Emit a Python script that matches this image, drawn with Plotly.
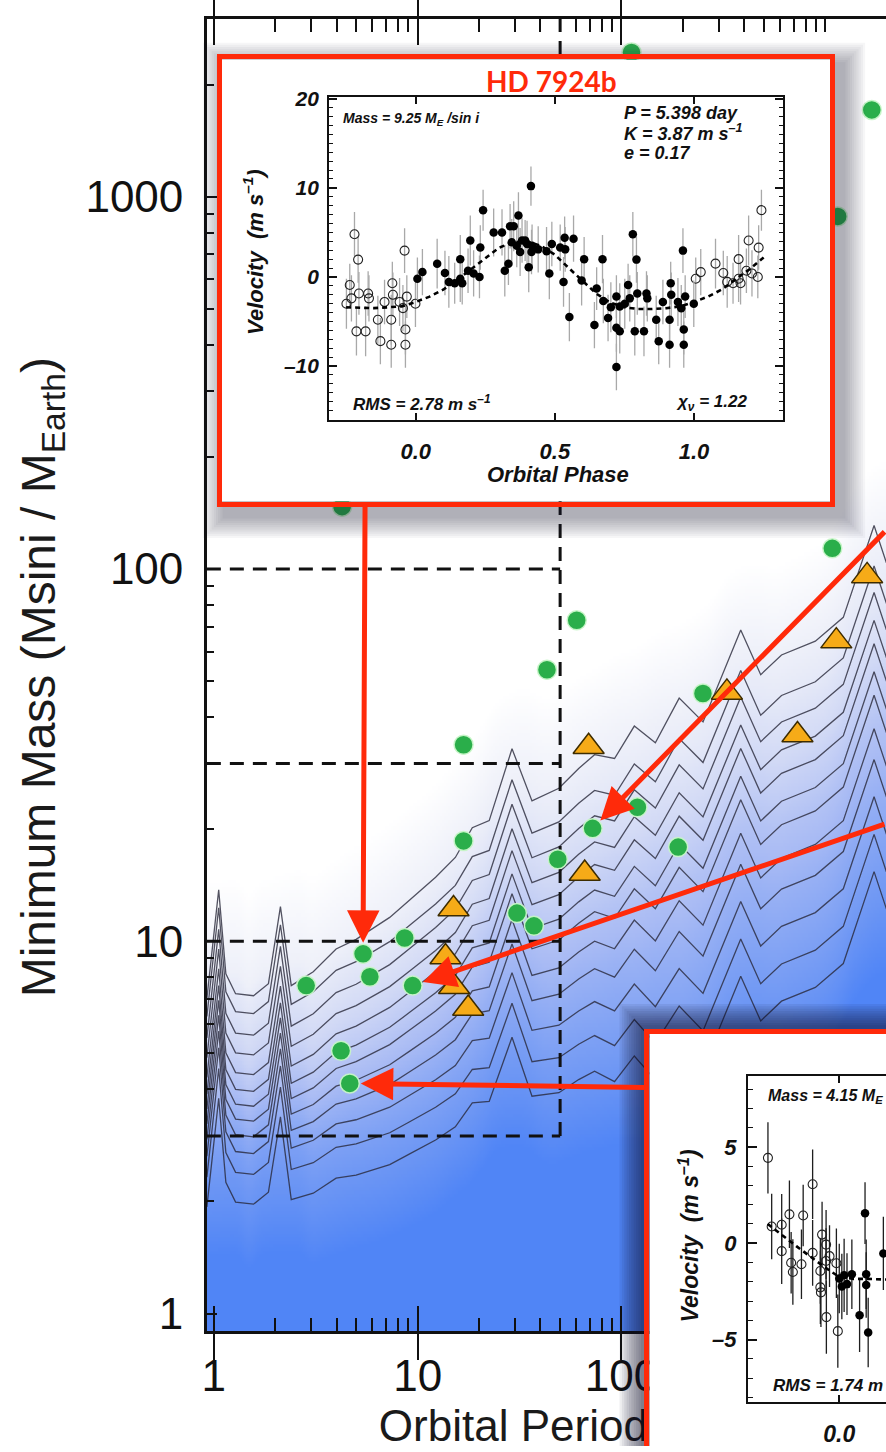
import numpy as np
import plotly.graph_objects as go

W, H = 886, 1452

# ---------------- planets ----------------
known_period = [2.84, 5.398, 5.83, 8.64, 9.45, 4.21, 4.646, 16.8, 16.8, 30.7, 37.2, 48.7,
                43.1, 60.3, 72.2, 119.7, 189.7, 251, 1082, 4.26, 112, 1690, 1150]
known_mass = [7.6, 9.25, 8.03, 10.2, 7.6, 5.08, 4.15, 18.6, 33.7, 11.9, 11.0, 16.6,
              53.6, 72.8, 20.1, 22.9, 17.9, 46.3, 113.6, 147, 2440, 1710, 885]
cand_period = [69, 66, 15.0, 13.7, 15.1, 17.7, 329, 730, 1132, 1603]
cand_mass = [33.3, 15.2, 12.2, 9.07, 7.55, 6.6, 46.6, 35.8, 64, 95.8]

# ---------------- detectability contours ----------------
contour_period = [0.925, 1.057, 1.146, 1.279, 1.567, 1.854, 2.123, 2.399, 3.076, 3.981,
                  4.989, 7.295, 9.141, 12.25, 15.31, 18.54, 22.44, 29.04, 36.39, 49.32,
                  61.66, 73.79, 92.47, 115.6, 146.6, 191.9, 251.2, 384.6, 481.9, 609.5,
                  893.3, 1225, 1734, 1995]
contour_top_mass = [7.02, 13.74, 8.17, 7.23, 7.14, 7.69, 12.39, 7.60, 8.28, 9.53,
                    10.12, 11.59, 12.91, 14.86, 16.79, 20.18, 21.09, 32.89, 23.82, 25.76,
                    29.11, 31.70, 30.97, 37.84, 34.12, 44.98, 38.82, 68.55, 52.00, 58.75,
                    63.97, 74.13, 130.9, 103.8]
# depth (dex) of each lower contour below the top one, at short and long periods
depth_short = [0.048, 0.106, 0.159, 0.212, 0.257, 0.297, 0.337, 0.379, 0.424, 0.48, 0.56]
depth_long = [0.109, 0.18, 0.255, 0.318, 0.393, 0.456, 0.546, 0.629, 0.729, 0.83, 0.93]
depth_anchor_logp = [0.3, 2.3]

# survey boxes
box_period_max = 50
box_mass_edges = [3, 10, 30, 100]

# ---------------- HD 7924b radial velocities ----------------
hd7924_phase = [0.006, 0.024, 0.077, 0.105, 0.119, 0.14, 0.16, 0.16, 0.167, 0.188, 0.196, 0.208,
                0.229, 0.232, 0.242, 0.28, 0.31, 0.32, 0.333, 0.339, 0.345, 0.352, 0.363, 0.369,
                0.375, 0.382, 0.393, 0.40, 0.406, 0.414, 0.416, 0.418, 0.44, 0.47, 0.48, 0.489,
                0.519, 0.531, 0.535, 0.537, 0.552, 0.567, 0.596, 0.605, 0.642, 0.65, 0.671, 0.674,
                0.691, 0.701, 0.721, 0.721, 0.721, 0.733, 0.733, 0.751, 0.763, 0.769, 0.78, 0.787,
                0.793, 0.796, 0.82, 0.829, 0.832, 0.864, 0.873, 0.888, 0.912, 0.912, 0.916, 0.918,
                0.942, 0.954, 0.96, 0.963, 0.963, 0.968, 0.999]
hd7924_vel = [-0.2, 0.55, 1.5, 0.45, -0.55, -0.7, -0.2, 2.0, -0.7, 0.7, 4.1, 0.4,
              0.0, 3.3, 7.5, 5.0, 5.0, 0.7, 1.5, 5.7, 3.9, 5.7, 3.5, 6.9,
              2.8, 4.1, 4.1, 3.7, 1.1, 10.2, 2.8, 3.5, 3.1, 2.9, 0.4, 3.7,
              3.3, -0.55, 4.4, 3.1, -4.5, 4.3, -0.4, 2.0, -5.4, -1.3, 2.0, -2.7,
              -4.6, -3.4, -2.2, -5.7, -10.1, -6.1, -3.3, -3.0, -0.9, -2.4, 4.8, -6.1,
              1.95, -1.85, -6.1, -1.85, -2.4, -4.8, -7.2, -2.8, -4.8, -7.6, -0.7, -2.0,
              -2.8, -3.5, 2.96, -5.9, -7.6, -2.2, -3.0]
hd7924_err = [2.4, 2.6, 2.8, 2.5, 2.9, 2.3, 2.6, 2.7, 2.4, 2.5, 2.8, 2.6,
              2.4, 2.5, 2.3, 2.7, 2.6, 2.9, 2.4, 2.5, 2.6, 2.8, 2.4, 2.6,
              2.7, 2.5, 2.3, 2.6, 2.8, 2.2, 2.5, 2.4, 2.6, 2.7, 2.9, 2.5,
              2.6, 2.8, 2.4, 2.5, 2.7, 2.6, 2.8, 2.5, 2.6, 2.4, 2.7, 2.5,
              2.6, 2.8, 2.4, 2.7, 2.6, 2.5, 2.6, 2.8, 2.4, 2.6, 2.5, 2.7,
              2.6, 2.4, 2.8, 2.5, 2.6, 2.7, 2.6, 2.5, 2.8, 2.6, 2.4, 2.5,
              2.7, 2.6, 2.5, 2.8, 2.6, 2.4, 2.6]
hd7924_fit_phase = [-0.25, -0.15, -0.05, 0.0, 0.05, 0.1, 0.15, 0.2, 0.25, 0.3, 0.35, 0.4, 0.45,
                    0.5, 0.55, 0.6, 0.65, 0.7, 0.75, 0.8, 0.85, 0.9, 0.95, 1.0, 1.05, 1.1,
                    1.15, 1.2, 1.25]
hd7924_fit_vel = [-3.4, -3.5, -3.3, -2.8, -2.2, -1.4, -0.3, 0.9, 2.2, 3.3, 3.9, 4.0, 3.5,
                  2.5, 1.0, -0.5, -1.9, -2.9, -3.4, -3.6, -3.6, -3.5, -3.3, -2.8, -2.2, -1.4,
                  -0.3, 0.9, 2.2]

# ---------------- HD 156668b radial velocities ----------------
hd156668_phase = [0.0, 0.009, 0.017, 0.027, 0.044, 0.071, 0.09, 0.094, 0.094, 0.101, 0.154,
                  0.751, 0.764, 0.799, 0.799, 0.826, 0.832, 0.838, 0.868, 0.874, 0.907, 0.907,
                  0.934, 0.936, 0.934, 0.94, 0.954, 0.954, 0.955, 0.966, 0.99, 0.995]
hd156668_vel = [-1.83, -2.24, -1.66, -2.12, -1.61, -3.74, 1.56, -1.61, -2.17, -4.63, -0.53,
                4.43, 0.87, 0.96, -0.41, 1.5, -1.01, -1.49, -1.09, 1.44, 3.06, -0.5,
                -1.44, -2.55, -2.29, 0.45, -0.07, -0.92, -3.83, -0.67, -1.04, -4.56]
hd156668_err = [1.8, 1.7, 1.9, 1.6, 1.8, 1.9, 1.6, 1.8, 1.7, 1.8, 1.9,
                1.85, 1.7, 1.6, 1.7, 1.75, 1.6, 1.7, 1.8, 1.6, 1.8, 1.7,
                1.7, 1.8, 1.9, 1.7, 1.8, 1.7, 1.9, 1.6, 1.8, 1.9]
hd156668_fit_phase = [-0.25, -0.2, -0.15, -0.1, -0.05, 0.0, 0.05, 0.1, 0.15, 0.2]
hd156668_fit_vel = [1.0, 0.4, -0.15, -0.7, -1.25, -1.75, -1.85, -1.85, -1.85, -1.9]


# ---------------- geometry helpers (pixel -> paper) ----------------
def PX(px):
    return px / W


def PY(py):
    return 1 - py / H


SANS = "Liberation Sans, Arial, Helvetica, sans-serif"
RED = "#ff2a0a"

x_log_range = [-0.034, 3.2976]
y_log_range = [-0.0477, 3.4775]

fig = go.Figure()

# ---- completeness shading derived from a smoothed copy of the contour levels ----
logp_grid = np.linspace(-0.06, 3.32, 340)
logm_grid = np.linspace(-0.08, 3.5, 400)
clogp = np.log10(contour_period)
ctop = np.log10(contour_top_mass)
top_on_grid = np.interp(logp_grid, clogp, ctop)
kern = np.ones(25) / 25.0
padded = np.concatenate([np.full(12, top_on_grid[0]), top_on_grid, np.full(12, top_on_grid[-1])])
top_smooth = np.convolve(padded, kern, mode="valid")
z = np.empty((len(logm_grid), len(logp_grid)))
for j, lp in enumerate(logp_grid):
    depths = [0.0] + [float(np.interp(lp, depth_anchor_logp, [s, l]))
                      for s, l in zip(depth_short, depth_long)]
    levels = top_smooth[j] - np.array(depths)
    xs = np.concatenate([[levels[-1] - 0.2], levels[::-1], [levels[0] + 0.25]])
    zs = np.concatenate([[1.0], np.linspace(0.9, 0.1, len(levels)), [0.0]])
    z[:, j] = np.interp(logm_grid, xs, zs)

fig.add_trace(go.Heatmap(
    x=10 ** logp_grid, y=10 ** logm_grid, z=z, zmin=0, zmax=1, zsmooth=False,
    colorscale=[[0, "#ffffff"], [0.1, "#eef0f9"], [0.35, "#d0d8f5"], [0.6, "#a9bbf4"],
                [0.9, "#6e97f4"], [1, "#5085f6"]],
    showscale=False, hoverinfo="skip", xaxis="x", yaxis="y"))

# contour lines
all_depths = [[0.0, 0.0]] + [[s, l] for s, l in zip(depth_short, depth_long)]
for s, l in all_depths:
    d = np.interp(clogp, depth_anchor_logp, [s, l])
    fig.add_trace(go.Scatter(
        x=contour_period, y=10 ** (ctop - d), mode="lines",
        line=dict(color="rgba(40,40,58,0.8)", width=1.3),
        hoverinfo="skip", xaxis="x", yaxis="y"))

# dashed survey boxes
x_left = 10 ** x_log_range[0]
for m in box_mass_edges:
    fig.add_trace(go.Scatter(
        x=[x_left, box_period_max], y=[m, m], mode="lines",
        line=dict(color="#111111", width=3, dash="14px,9px"),
        hoverinfo="skip", xaxis="x", yaxis="y"))
fig.add_trace(go.Scatter(
    x=[box_period_max, box_period_max], y=[box_mass_edges[0], 10 ** y_log_range[1]],
    mode="lines", line=dict(color="#111111", width=3, dash="14px,9px"),
    hoverinfo="skip", xaxis="x", yaxis="y"))

# planets
fig.add_trace(go.Scatter(
    x=known_period, y=known_mass, mode="markers",
    marker=dict(size=19, color="#2aae4a", line=dict(color="rgba(200,245,200,0.95)", width=1.5)),
    hoverinfo="skip", xaxis="x", yaxis="y"))
fig.add_trace(go.Scatter(
    x=cand_period, y=cand_mass, mode="markers",
    marker=dict(size=27, symbol="triangle-up", color="#f6ab18",
                line=dict(color="#3d2c00", width=1.5)),
    hoverinfo="skip", xaxis="x", yaxis="y"))

# minor tick carriers
fig.add_trace(go.Scatter(x=[None], y=[None], xaxis="x9", yaxis="y", hoverinfo="skip"))
fig.add_trace(go.Scatter(x=[None], y=[None], xaxis="x", yaxis="y9", hoverinfo="skip"))


# ---------------- inset helpers ----------------
def add_shadow(xa, ya, box, dx, dy, spread, n, alpha):
    x0, y0, x1, y1 = box
    for k in range(n):
        e = spread * (n - k) / n
        fig.add_trace(go.Scatter(
            x=[x0 - e + dx, x1 + e + dx, x1 + e + dx, x0 - e + dx, x0 - e + dx],
            y=[y0 - e + dy, y0 - e + dy, y1 + e + dy, y1 + e + dy, y0 - e + dy],
            mode="lines", fill="toself", fillcolor=f"rgba(20,20,40,{alpha})",
            line=dict(width=0), hoverinfo="skip", xaxis=xa, yaxis=ya))


def add_white(xa, ya):
    fig.add_trace(go.Scatter(
        x=[0, 1, 1, 0, 0], y=[0, 0, 1, 1, 0], mode="lines", fill="toself",
        fillcolor="white", line=dict(width=0), hoverinfo="skip", xaxis=xa, yaxis=ya))


def add_rv(xa, ya, phase, vel, err, fit_p, fit_v, errcolor, lo=-0.25, hi=1.25):
    phase = np.asarray(phase)
    vel = np.asarray(vel)
    err = np.asarray(err)
    left = phase > 1 + lo
    right = phase < hi - 1
    op = np.concatenate([phase[left] - 1, phase[right] + 1])
    ov = np.concatenate([vel[left], vel[right]])
    oe = np.concatenate([err[left], err[right]])
    eb = dict(type="data", visible=True, color=errcolor, thickness=1.3, width=0)
    fig.add_trace(go.Scatter(
        x=op, y=ov, mode="markers", error_y=dict(array=oe, **eb),
        marker=dict(symbol="circle-open", size=9, color="#222", line=dict(width=1.1)),
        hoverinfo="skip", xaxis=xa, yaxis=ya))
    fig.add_trace(go.Scatter(
        x=phase, y=vel, mode="markers", error_y=dict(array=err, **eb),
        marker=dict(size=8.5, color="#000"),
        hoverinfo="skip", xaxis=xa, yaxis=ya))
    fig.add_trace(go.Scatter(
        x=fit_p, y=fit_v, mode="lines",
        line=dict(color="#000", width=2.6, dash="5px,4px"),
        hoverinfo="skip", xaxis=xa, yaxis=ya))


# ---- upper inset: HD 7924b ----
up_box = (213, 45, 835, 502)
add_shadow("x2", "y2", up_box, 8, 10, 22, 10, 0.04)
add_white("x3", "y3")
add_rv("x4", "y4", hd7924_phase, hd7924_vel, hd7924_err,
       hd7924_fit_phase, hd7924_fit_vel, "#a9a9a9")

# ---- x-axis title, layered beneath the lower inset ----
fig.add_trace(go.Scatter(
    x=[376], y=[1436], mode="text", text=["Orbital Period (days)"],
    textposition="middle right", textfont=dict(family=SANS, size=44, color="#1a1a1a"),
    hoverinfo="skip", xaxis="x5", yaxis="y5"))

# ---- lower inset: HD 156668b ----
lo_box = (643, 1030, 1300, 1800)
add_shadow("x6", "y6", lo_box, -1, -1, 24, 10, 0.07)
add_white("x7", "y7")
add_rv("x8", "y8", hd156668_phase, hd156668_vel, hd156668_err,
       hd156668_fit_phase, hd156668_fit_vel, "#1e1e1e")

# ---------------- axes ----------------
hidden = dict(visible=False, showgrid=False, zeroline=False, fixedrange=True)
frame_axis = dict(showline=True, linecolor=RED, linewidth=5, ticks="",
                  showticklabels=False, showgrid=False, zeroline=False, fixedrange=True)
main_x_dom = [PX(203), 1.0]
main_y_dom = [PY(1336), PY(9)]
minor_x = [v * 10 ** e for e in range(0, 4) for v in range(2, 10)]
minor_y = [v * 10 ** e for e in range(0, 4) for v in range(2, 10)]
ticktxt_font = dict(family=SANS, size=44, color="#111")
inset_font = dict(family=SANS, size=21, color="#111", weight="bold", style="italic")

layout = dict(
    width=W, height=H, autosize=False, showlegend=False,
    margin=dict(l=0, r=0, t=0, b=0),
    paper_bgcolor="white", plot_bgcolor="rgba(0,0,0,0)",
    xaxis=dict(domain=main_x_dom, type="log", range=x_log_range, anchor="y",
               showline=True, linecolor="#111", linewidth=2.5, mirror="allticks",
               ticks="inside", ticklen=26, tickwidth=2, tickcolor="#111",
               tickvals=[1, 10, 100], ticktext=["1", "10", "100"],
               tickfont=ticktxt_font, ticklabelstandoff=4,
               showgrid=False, zeroline=False),
    yaxis=dict(domain=main_y_dom, type="log", range=y_log_range, anchor="x",
               showline=True, linecolor="#111", linewidth=2.5, mirror=False,
               ticks="inside", ticklen=10, tickwidth=2, tickcolor="#111",
               tickvals=[1, 10, 100, 1000], ticktext=["1", "10", "100", "1000"],
               tickfont=ticktxt_font, ticklabelstandoff=12,
               showgrid=False, zeroline=False),
    xaxis9=dict(type="log", range=x_log_range, overlaying="x", anchor="y",
                showline=False, mirror="ticks", ticks="inside", ticklen=13, tickwidth=2,
                tickcolor="#111", tickvals=minor_x + [1000], showticklabels=False,
                showgrid=False, zeroline=False),
    yaxis9=dict(type="log", range=y_log_range, overlaying="y", anchor="x", side="left",
                showline=False, ticks="inside", ticklen=7, tickwidth=2,
                tickcolor="#111", tickvals=minor_y, showticklabels=False,
                showgrid=False, zeroline=False),
    # upper inset shadow / frame / plot
    xaxis2=dict(domain=[PX(185), PX(880)], range=[185, 880], anchor="y2", **hidden),
    yaxis2=dict(domain=[PY(545), PY(22)], range=[545, 22], anchor="x2", **hidden),
    xaxis3=dict(domain=[PX(218), PX(830)], range=[0, 1], anchor="y3", mirror=True, **frame_axis),
    yaxis3=dict(domain=[PY(497), PY(50)], range=[0, 1], anchor="x3", mirror=True, **frame_axis),
    xaxis4=dict(domain=[PX(326), PX(782)], range=[-0.311, 1.318], anchor="y4",
                showline=True, linecolor="#111", linewidth=2, mirror="allticks",
                ticks="inside", ticklen=7, tickwidth=1.5, tickcolor="#111",
                tickvals=[0, 0.5, 1.0], ticktext=["0.0", "0.5", "1.0"],
                tickfont=dict(inset_font, size=22), ticklabelstandoff=10,
                showgrid=False, zeroline=False),
    yaxis4=dict(domain=[PY(415), PY(88)], range=[-16.1, 20.2], anchor="x4",
                showline=True, linecolor="#111", linewidth=2, mirror="allticks",
                ticks="inside", ticklen=8, tickwidth=1.5, tickcolor="#111",
                tickvals=[-10, 0, 10, 20], ticktext=["\u201310", "0", "10", "20"],
                tickfont=inset_font, ticklabelstandoff=4,
                minor=dict(ticks="inside", ticklen=4, tickwidth=1, tickcolor="#111",
                           tickmode="linear", tick0=0, dtick=1),
                showgrid=False, zeroline=False),
    # x-axis title carrier
    xaxis5=dict(domain=[PX(300), 1.0], range=[300, 886], anchor="y5", **hidden),
    yaxis5=dict(domain=[0.0, PY(1400)], range=[1452, 1400], anchor="x5", **hidden),
    # lower inset shadow / frame / plot
    xaxis6=dict(domain=[PX(600), 1.0], range=[600, 886], anchor="y6", **hidden),
    yaxis6=dict(domain=[0.0, PY(990)], range=[1452, 990], anchor="x6", **hidden),
    xaxis7=dict(domain=[PX(648), 1.0], range=[0, 1], anchor="y7", side="top",
                mirror=False, **frame_axis),
    yaxis7=dict(domain=[0.0, PY(1035)], range=[0, 1], anchor="x7", mirror=False, **frame_axis),
    xaxis8=dict(domain=[PX(747), 1.0], range=[-0.3194, 0.1632], anchor="y8",
                showline=True, linecolor="#111", linewidth=2, mirror="allticks",
                ticks="inside", ticklen=7, tickwidth=1.5, tickcolor="#111",
                tickvals=[0.0], ticktext=["0.0"],
                tickfont=dict(inset_font, size=23), ticklabelstandoff=10,
                showgrid=False, zeroline=False),
    yaxis8=dict(domain=[PY(1408), PY(1078)], range=[-8.26, 8.67], anchor="x8",
                showline=True, linecolor="#111", linewidth=2, mirror=False,
                ticks="inside", ticklen=9, tickwidth=1.5, tickcolor="#111",
                tickvals=[-5, 0, 5], ticktext=["\u20135", "0", "5"],
                tickfont=dict(inset_font, size=22), ticklabelstandoff=5,
                minor=dict(ticks="inside", ticklen=5, tickwidth=1, tickcolor="#111",
                           tickmode="linear", tick0=0, dtick=1),
                showgrid=False, zeroline=False),
)
fig.update_layout(**layout)


# ---------------- text ----------------
def note(text, px, py, size, xanchor="left", angle=0, color="#111", bold=True,
         italic=True, family=SANS):
    fig.add_annotation(
        text=text, x=PX(px), y=PY(py), xref="paper", yref="paper",
        xanchor=xanchor, yanchor="middle", showarrow=False, textangle=angle,
        font=dict(family=family, size=size, color=color,
                  weight="bold" if bold else "normal",
                  style="italic" if italic else "normal"))


note("Minimum Mass (Msini / M<sub>Earth</sub>)", 37, 675, 48, "center", -90,
     color="#1a1a1a", bold=False, italic=False)

note("HD 7924b", 550, 72, 28, "center", color=RED, italic=False,
     family="Lato, Open Sans, sans-serif")
note("Mass = 9.25 M<sub>E</sub> /sin i", 338, 110, 14)
note("P = 5.398 day", 620, 104, 18)
note("K = 3.87 m s<sup>\u20131</sup>", 620, 124, 18)
note("e = 0.17", 620, 145, 18)
note("RMS = 2.78 m s<sup>\u20131</sup>", 348, 397, 17)
note("\u03c7<sub>\u03bd</sub> = 1.22", 748, 397, 17, "right")
note("Velocity  (m s<sup>\u20131</sup>)", 250, 245, 22, "center", -90)
note("Orbital Phase", 556, 470, 22, "center")

note("Mass = 4.15 M<sub>E</sub> /sin i", 765, 1099, 16)
note("RMS = 1.74 m s<sup>\u20131</sup>", 770, 1389, 17)
note("Velocity  (m s<sup>\u20131</sup>)", 688, 1240, 23, "center", -90)

# ---------------- arrows pointing to highlighted planets ----------------
arrows = [
    (5.398, 9.25, 2, -451),
    (72.2, 20.1, 295, -298),
    (9.45, 7.6, 476, -162),
    (4.646, 4.15, 296, 4),
]
for p, m, ax, ay in arrows:
    fig.add_annotation(
        x=np.log10(p), y=np.log10(m), xref="x", yref="y", ax=ax, ay=ay,
        showarrow=True, arrowhead=2, arrowsize=1.3, arrowwidth=5, arrowcolor=RED,
        standoff=11, text="")

fig.write_html(
    "out.html", include_plotlyjs=True, config={"displayModeBar": False},
    post_script="document.documentElement.style.margin='0';"
                "document.body.style.margin='0';"
                "document.body.style.overflow='hidden';")
